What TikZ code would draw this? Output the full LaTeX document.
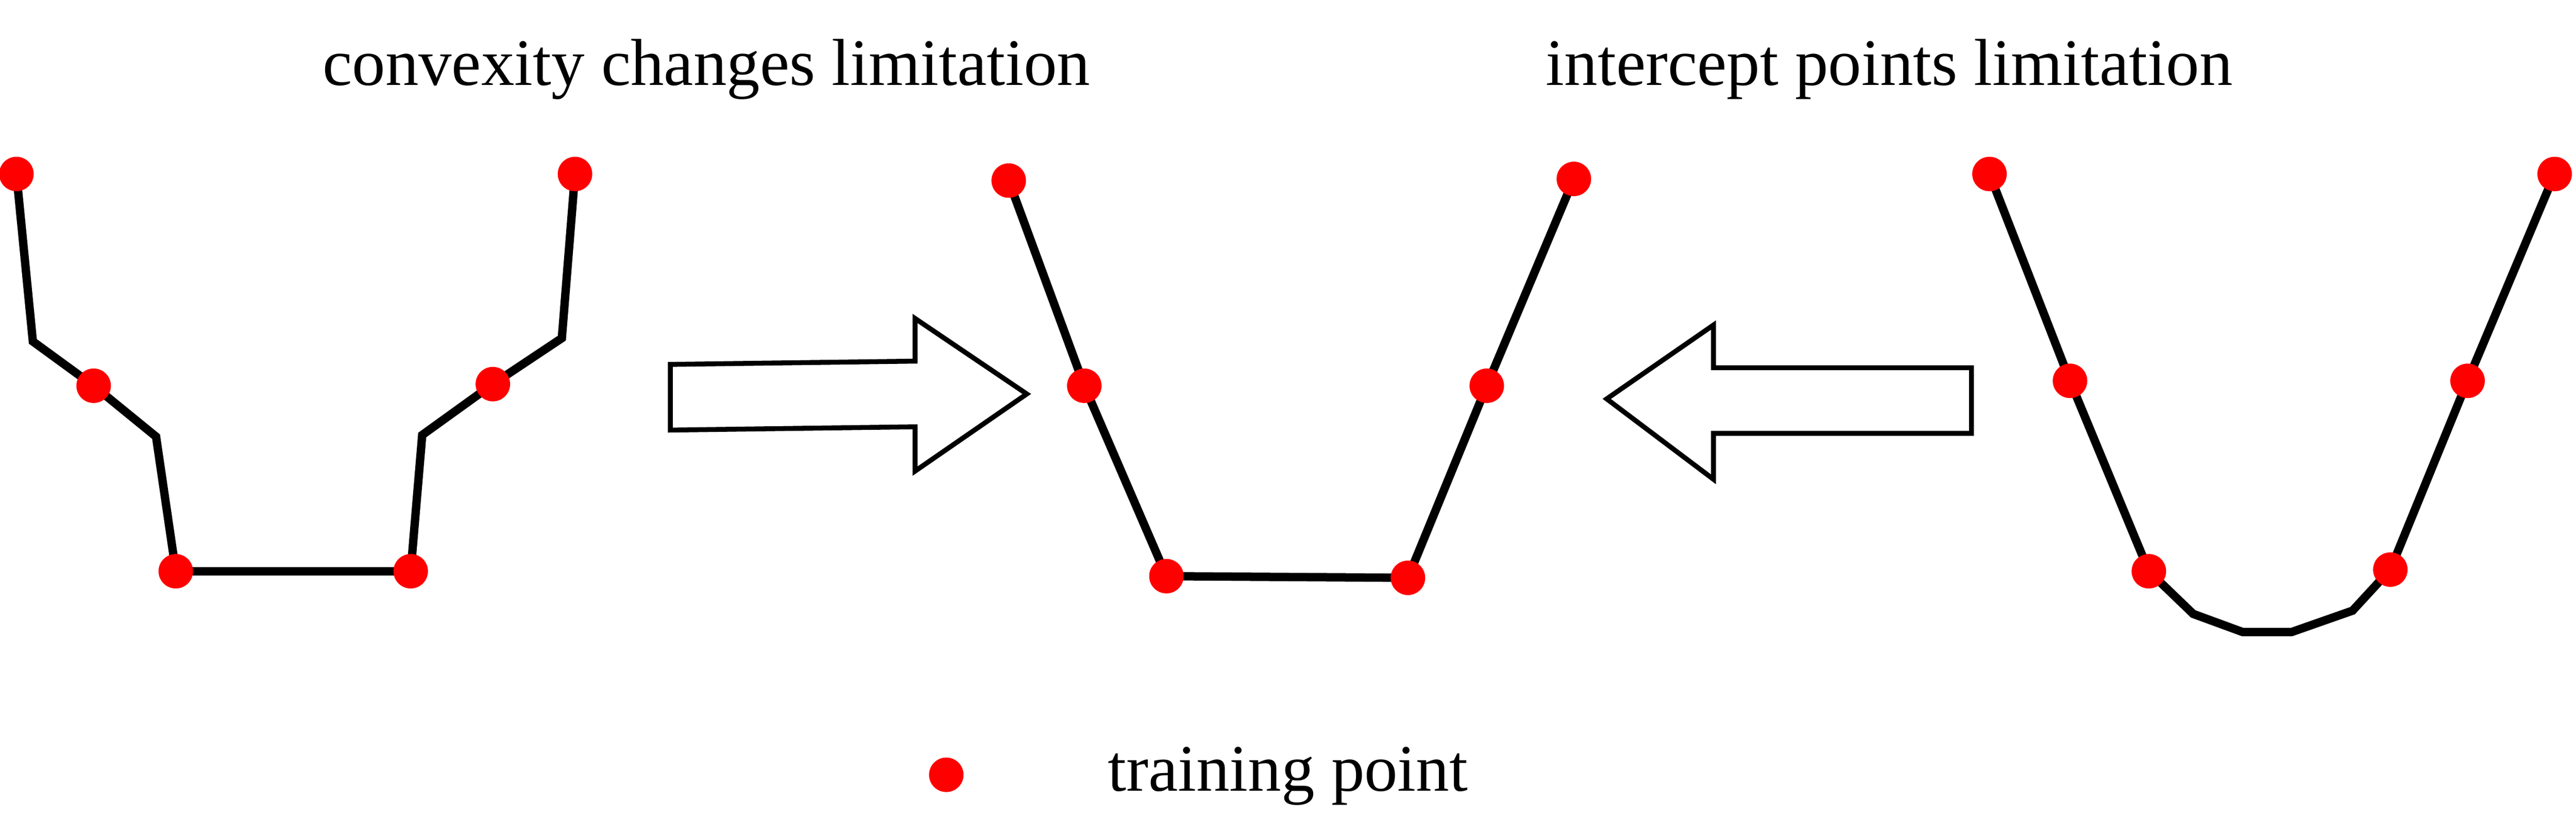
\documentclass[tikz,border=0pt]{standalone}
\usepackage{fontspec}
\setmainfont{Liberation Serif}
\begin{document}
\begin{tikzpicture}[x=0.01cm,y=-0.01cm,
  pt/.style={circle,fill=red,inner sep=0pt,minimum size=0.21cm},
  curve/.style={line width=1.45pt,line join=miter},
  bigarrow/.style={draw,line width=0.85pt,fill=white},
  lbl/.style={font=\fontsize{11.5}{13}\selectfont,anchor=base}]
\useasboundingbox (0,0) rectangle (1568,509);
% left curve
\coordinate (l2) at (20,208); \coordinate (l4) at (95,266);
\coordinate (l7) at (257,265); \coordinate (l9) at (342,206);
\coordinate (l1) at (10,106); \coordinate (l3) at (57,235);
\coordinate (l5) at (107,348); \coordinate (l6) at (250,348);
\coordinate (l8) at (300,234); \coordinate (l10) at (350,106);
\draw[curve] (l1)--(l2)--(l3)--(l4)--(l5)--(l6)--(l7)--(l8)--(l9)--(l10);
\foreach \n in {l1,l3,l5,l6,l8,l10} \node[pt] at (\n) {};
% middle curve
\coordinate (m1) at (614,110); \coordinate (m2) at (660,235);
\coordinate (m3) at (710,351); \coordinate (m4) at (857,352);
\coordinate (m5) at (905,235); \coordinate (m6) at (958,109);
\draw[curve] (m1)--(m2)--(m3)--(m4)--(m5)--(m6);
\foreach \n in {m1,m2,m3,m4,m5,m6} \node[pt] at (\n) {};
% right curve
\coordinate (r1) at (1211,106); \coordinate (r2) at (1260,232);
\coordinate (r3) at (1308,348); \coordinate (r4) at (1335,374);
\coordinate (r5) at (1365,385); \coordinate (r6) at (1395,385);
\coordinate (r7) at (1432,372); \coordinate (r8) at (1455,347);
\coordinate (r9) at (1502,232); \coordinate (r10) at (1555,106);
\draw[curve] (r1)--(r2)--(r3)--(r4)--(r5)--(r6)--(r7)--(r8)--(r9)--(r10);
\foreach \n in {r1,r2,r3,r8,r9,r10} \node[pt] at (\n) {};
% arrows
\draw[bigarrow] (408,222)--(557,220)--(557,194)--(625,240)--(557,287)--(557,260)--(408,262)--cycle;
\draw[bigarrow] (1200,224)--(1043,224)--(1043,198)--(978,243)--(1043,292)--(1043,264)--(1200,264)--cycle;
% titles
\node[lbl] (t1) at (430,52) {convexity changes limitation};
\node[lbl] (t2) at (1150,52) {intercept points limitation};
% legend
\node[pt] (leg) at (576,472) {};
\node[lbl,anchor=base west] (legt) at (662,482) {training point};
\end{tikzpicture}
\end{document}
